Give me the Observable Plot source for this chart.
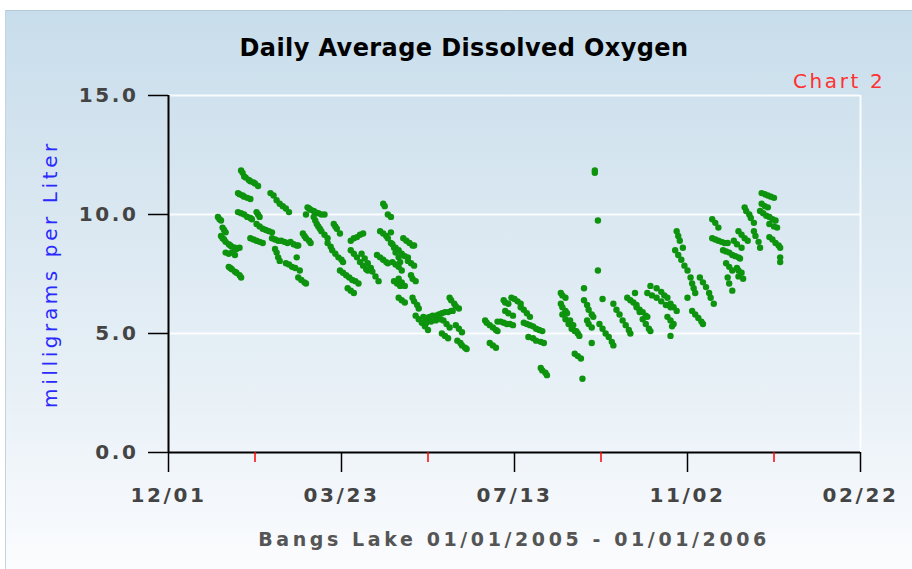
<!DOCTYPE html>
<html>
<head>
<meta charset="utf-8">
<script src="https://cdn.jsdelivr.net/npm/d3@7"></script>
<script src="https://cdn.jsdelivr.net/npm/@observablehq/plot@0.6"></script>
<style>
  html, body { margin: 0; padding: 0; background: #fff; }
  #wrap { position: relative; width: 912px; height: 569px; overflow: hidden; background: #fff; }
  #panel { position: absolute; left: 5px; top: 10px; right: 0; bottom: 0;
    background: linear-gradient(to bottom, #c8ddeb 0%, #d9e7f1 35%, #e9f1f7 70%, #fbfcfe 100%);
    border-top: 1px solid #b7cad8; border-left: 1px solid #c3d3df; }
  #chart { position: absolute; left: 0; top: 0; }
  .t { position: absolute; white-space: nowrap; font-family: "DejaVu Sans", sans-serif; line-height: 1; }
  #title { left: 464px; top: 36px; transform: translateX(-50%); font-size: 24px; font-weight: bold; color: #000; letter-spacing: 0.4px; }
  #tag { left: 793px; top: 71px; font-size: 20px; color: #ff3030; letter-spacing: 2.6px; }
  #ylab { left: 50px; top: 274px; transform: translate(-50%, -50%) rotate(-90deg); font-size: 20px; color: #2a2aff; letter-spacing: 3.6px; }
  #cap { left: 514px; top: 530px; transform: translateX(-50%); font-size: 19px; font-weight: bold; color: #555; letter-spacing: 3.6px; }
  #chart svg g[aria-label$="tick label"] text { letter-spacing: 2.6px; }
</style>
</head>
<body>
<div id="wrap">
  <div id="panel"></div>
  <div id="chart"></div>
  <div class="t" id="title">Daily Average Dissolved Oxygen</div>
  <div class="t" id="tag">Chart 2</div>
  <div class="t" id="ylab">milligrams per Liter</div>
  <div class="t" id="cap">Bangs Lake 01/01/2005 - 01/01/2006</div>
</div>
<script>
// [day offset from 2005-01-01, dissolved oxygen mg/L]
const janFeb = [
  [1,9.9],[2,9.8],[3,9.75],[4,9.45],[5,9.35],[6,9.25],
  [3,9.1],[4,9.0],[5,8.95],[6,8.85],
  [6,8.4],[8,8.35],[10,8.4],[12,8.3],
  [8,8.75],[9,8.7],[10,8.65],[12,8.6],[13,8.55],[15,8.6],
  [8,7.8],[9,7.75],[10,7.7],[12,7.6],[13,7.55],[15,7.45],[16,7.35],
  [16,11.85],[17,11.75],[18,11.6],[19,11.55],[21,11.45],[22,11.4],[24,11.35],[25,11.3],[27,11.2],
  [14,10.9],[15,10.85],[17,10.8],[18,10.75],[20,10.7],[22,10.65],
  [14,10.1],[16,10.05],[18,10.0],[20,9.9],[22,9.85],[23,9.8],
  [26,10.1],[27,10.0],[28,9.9],
  [22,9.0],[24,8.95],[26,8.9],[28,8.85],[30,8.8],
  [26,9.6],[28,9.5],[30,9.4],[32,9.35],[34,9.3],[36,9.25],
  [35,10.9],[37,10.8],[39,10.6],[41,10.45],[43,10.35],[45,10.25],[47,10.1],
  [36,9.0],[38,8.95],[40,8.9],[42,8.9],[44,8.85],[46,8.8],[48,8.85],[50,8.75],[52,8.7],[53,8.7],
  [38,8.55],[39,8.4],[40,8.2],[41,8.05],
  [45,7.95],[47,7.9],[49,7.8],[51,7.75],[54,7.65],
  [52,8.2],
  [53,7.35],[55,7.25],[57,7.15],[58,7.1],
  [58,10.0],[56,9.2],[57,9.1],[58,9.0]
];
const marApr = [
  [59,10.3],[60,10.25],[61,10.2],[63,10.15],[64,10.1],[66,10.05],[68,10.0],[70,10.0],
  [60,8.9],[61,8.8],
  [63,9.9],[64,9.75],[65,9.6],[66,9.5],[67,9.4],[68,9.3],[70,9.15],[72,9.0],
  [76,9.6],[77,9.5],[78,9.4],[80,9.2],
  [72,8.8],[74,8.65],[75,8.5],[77,8.35],[79,8.2],[81,8.1],[82,8.0],
  [80,7.65],[82,7.55],[84,7.45],[86,7.35],[88,7.25],[90,7.2],[92,7.1],
  [85,6.9],[87,6.8],[89,6.7],
  [87,8.9],[89,9.0],[91,9.05],[93,9.15],[95,9.2],
  [87,8.5],[89,8.35],[91,8.2],[93,8.0],[95,7.85],[97,7.7],[98,7.65],
  [94,8.35],[96,8.15],[98,7.95],[100,7.75],[101,7.6],[103,7.4],[105,7.2],
  [106,9.3],[108,9.2],[110,9.1],[111,9.0],
  [108,10.45],[109,10.35],[111,10.0],[113,9.9],
  [104,8.3],[106,8.2],[108,8.1],[110,8.0],[111,7.95],
  [113,8.8],[115,8.6],[116,8.4],[118,8.2],[119,8.0],
  [115,7.2],[117,7.1],[119,7.0],
  [113,9.25],[114,8.75],[116,8.6],[118,8.5],
  [114,8.0],[116,7.9],[118,7.8],
  [118,7.3],[118,6.5]
];
const mayJun = [
  [120,8.35],[122,8.25],[124,8.2],
  [121,9.0],[123,8.9],[125,8.8],[127,8.7],[128,8.7],
  [120,7.65],
  [124,8.05],[126,7.95],[128,7.85],
  [120,7.15],[122,7.0],
  [126,7.45],[127,7.3],[129,7.2],
  [120,6.4],[122,6.3],
  [127,6.5],[128,6.35],[130,6.2],[131,6.05],
  [129,5.75],[131,5.6],[133,5.45],[135,5.3],[137,5.15],
  [134,5.7],[136,5.65],[138,5.7],[140,5.75],[142,5.75],[144,5.8],[146,5.85],[148,5.9],[150,5.9],[152,5.95],[153,5.95],
  [136,5.45],[139,5.5],[142,5.55],[145,5.6],
  [151,6.5],[152,6.4],[154,6.25],[155,6.15],[157,6.05],
  [147,5.55],[149,5.4],[151,5.25],
  [146,5.0],[148,4.9],[150,4.8],
  [155,5.35],[157,5.2],[159,5.05],
  [156,4.7],[158,4.6],[159,4.5],[161,4.4],[162,4.35],
  [174,5.55],[175,5.45],[177,5.35],[179,5.25]
];
const julAug = [
  [181,5.15],[182,5.1],
  [177,4.6],[179,4.5],[181,4.4],
  [182,5.5],[184,5.5],[186,5.45],[188,5.4],[190,5.4],[192,5.35],
  [186,6.4],[187,6.3],[189,6.25],
  [187,5.95],[189,5.85],[192,5.75],
  [191,6.5],[193,6.45],[195,6.35],[197,6.25],
  [197,6.1],[199,6.0],[201,5.85],[203,5.7],
  [199,5.45],[201,5.4],[203,5.35],[205,5.3],[207,5.2],[209,5.15],[211,5.1],
  [202,4.85],[205,4.8],[207,4.7],[210,4.65],[212,4.6],
  [210,3.55],[211,3.45],[213,3.35],[214,3.25],
  [223,6.7],[224,6.6],[226,6.5],
  [223,6.25],[224,6.1],[226,5.95],[227,5.85],
  [224,5.8],[226,5.6],[228,5.4],[230,5.2],[232,5.1],[234,5.0],
  [232,4.15],[234,4.05],[236,3.95],
  [229,5.55],[231,5.35],[233,5.1],[235,4.9],
  [237,3.1],
  [238,6.9],
  [238,6.4],[240,6.2],[241,6.0],[243,5.8],[244,5.7],
  [240,5.55],[241,5.4],[243,5.25],
  [243,4.6]
];
const sepOct = [
  [245,11.75],[245,11.85],
  [247,9.75],
  [247,7.65],
  [250,6.45],
  [248,5.4],[250,5.2],[252,5.0],[254,4.85],[256,4.65],[257,4.5],
  [257,6.25],[259,6.0],[261,5.8],[263,5.55],[265,5.35],[267,5.15],[268,5.0],
  [266,6.5],[268,6.4],[270,6.3],[272,6.2],[274,6.0],[276,5.9],[278,5.75],[279,5.7],
  [271,6.7],
  [272,6.1],[274,5.9],[276,5.6],[278,5.4],[280,5.2],[281,5.1],
  [281,7.0],
  [279,6.7],[282,6.6],[285,6.5],[288,6.35],[291,6.2],[294,6.1],
  [285,6.9],[288,6.75],[290,6.6],[292,6.5],
  [292,5.7],[294,5.55],[296,5.4],
  [294,4.9],
  [298,9.3],[299,9.1],[300,8.9],[302,8.6],
  [297,8.5],[299,8.3],[301,8.1],[303,7.85],
  [294,6.25],[296,6.1],[298,5.95],
  [295,5.3]
];
const novDec = [
  [305,7.65],
  [307,7.35],[308,7.1],[309,6.9],[310,6.7],
  [305,6.5],
  [308,5.95],[310,5.8],[312,5.65],[314,5.5],[315,5.4],
  [313,7.35],[315,7.15],[317,6.95],[319,6.7],[320,6.5],[322,6.25],
  [321,9.8],[323,9.65],[325,9.45],
  [321,9.0],[323,8.95],[325,8.9],[327,8.85],[329,8.8],[331,8.8],
  [328,8.5],[330,8.45],[332,8.4],[334,8.3],[336,8.25],[338,8.2],[339,8.15],
  [330,7.95],[332,7.8],[334,7.65],
  [331,7.35],[332,7.1],[334,6.8],
  [337,7.75],[338,7.65],[340,7.55],
  [338,7.4],[341,7.3],
  [335,8.9],[337,8.75],[340,8.6],
  [338,9.3],[340,9.15],[342,9.0],[344,8.9],
  [342,10.3],[343,10.15],[345,10.0],[346,9.85],[348,9.65],
  [348,9.3],[349,9.1],[351,8.85],[352,8.6],
  [353,10.9],[355,10.85],[357,10.8],[359,10.75],[361,10.7],
  [353,10.45],[355,10.35],[357,10.3],
  [352,10.15],[354,10.05],[356,9.95],[358,9.9],[360,9.8],[362,9.75],
  [358,9.6],[361,9.5],[363,9.45],
  [358,9.05],[360,8.95],[362,8.8],[364,8.7],[365,8.6],
  [365,8.2],[365,8.0]
];

const startDate = "2005-01-01";
const xDomain = ["2004-12-01", "2006-02-22"];
const majorTicks = ["2004-12-01", "2005-03-23", "2005-07-13", "2005-11-02", "2006-02-22"];
const minorTicks = ["2005-01-26", "2005-05-18", "2005-09-07", "2005-12-28"];
const yTicks = [0, 5, 10, 15];
const gridValues = [5, 10, 15];

const t0 = new Date(startDate);
const data = [...janFeb, ...marApr, ...mayJun, ...julAug, ...sepOct, ...novDec]
  .map(([d, v]) => ({date: d3.utcDay.offset(t0, d), value: v}));
const toDate = s => new Date(s);

const chart = Plot.plot({
  width: 912, height: 569,
  marginLeft: 168, marginRight: 52, marginTop: 95, marginBottom: 117,
  style: {background: "transparent", overflow: "visible"},
  x: {type: "utc", domain: xDomain.map(toDate)},
  y: {domain: [0, 15]},
  marks: [
    Plot.ruleY(gridValues, {stroke: "white", strokeWidth: 2, strokeOpacity: 0.85}),
    Plot.ruleX([toDate(xDomain[1])], {stroke: "white", strokeWidth: 2, strokeOpacity: 0.85}),
    Plot.dot(data, {x: "date", y: "value", r: 3.2, fill: "#0d930d", stroke: "none"}),
    Plot.ruleX([toDate(xDomain[0])], {stroke: "black", strokeWidth: 2}),
    Plot.ruleY([0], {stroke: "black", strokeWidth: 2}),
    Plot.axisY({ticks: yTicks, tickSize: 20, tickPadding: 10, tickFormat: d => d.toFixed(1),
      stroke: "black", fill: "#444", strokeWidth: 1.5, fontSize: 20, fontWeight: "bold",
      fontFamily: "DejaVu Sans", label: null}),
    Plot.axisX({ticks: majorTicks.map(toDate), tickSize: 20, tickPadding: 15,
      tickFormat: d3.utcFormat("%m/%d"), stroke: "black", fill: "#444", strokeWidth: 1.5,
      fontSize: 20, fontWeight: "bold", fontFamily: "DejaVu Sans", label: null}),
    Plot.axisX({ticks: minorTicks.map(toDate), tickSize: 10, tickFormat: () => "",
      stroke: "red", strokeWidth: 1.5, label: null})
  ]
});
document.getElementById("chart").appendChild(chart);
</script>
</body>
</html>
